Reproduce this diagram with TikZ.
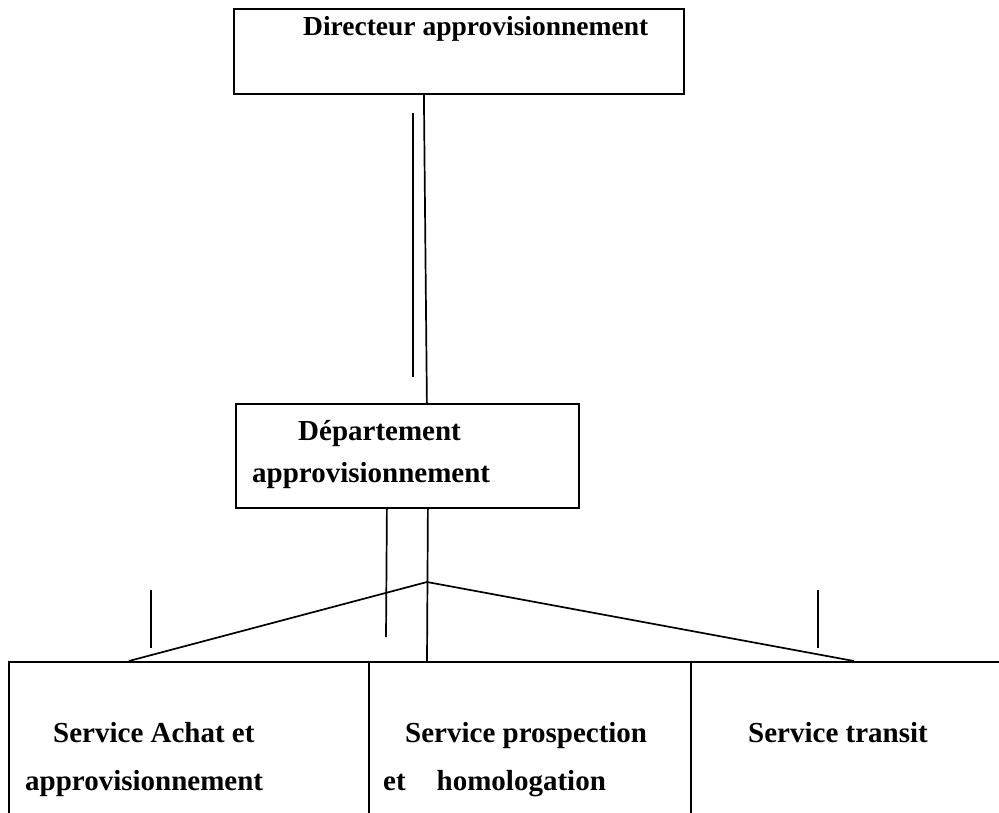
\documentclass[tikz,border=0pt]{standalone}
\usepackage{fontspec}
\setmainfont{Liberation Serif}
\usetikzlibrary{positioning, calc}

\begin{document}
\begin{tikzpicture}[x=1pt, y=-1pt,
    box/.style={draw, line width=1.8pt, inner sep=0pt},
    lbl/.style={anchor=base west, inner sep=0pt, font=\bfseries\fontsize{29}{34}\selectfont},
    link/.style={line width=1.7pt}]
\useasboundingbox (0,0) rectangle (999,812);
\clip (0,0) rectangle (999,812);

% Boxes
\node[box, minimum width=450pt, minimum height=85pt, anchor=north west] (dir) at (233,8) {};
\node[box, minimum width=343pt, minimum height=104pt, anchor=north west] (dep) at (235,403) {};
\node[box, minimum width=360pt, minimum height=190pt, anchor=north west] (achat) at (8,661) {};
\node[box, minimum width=322pt, minimum height=190pt, anchor=north west] (prosp) at (368,661) {};
\node[box, minimum width=340pt, minimum height=190pt, anchor=north west] (transit) at (690,661) {};

% Labels
\node[lbl, font=\bfseries\fontsize{27.5}{32}\selectfont] (dirTxt) at (303,35) {Directeur approvisionnement};
\node[lbl] (depTxtA) at (298,440) {Département};
\node[lbl] (depTxtB) at (252,482) {approvisionnement};
\node[lbl] (achatTxtA) at (53,742) {Service Achat et};
\node[lbl] (achatTxtB) at (25,790) {approvisionnement};
\node[lbl] (prospTxtA) at (405,742) {Service prospection};
\node[lbl] (prospTxtB) at (383,790) {et\hspace{31pt}homologation};
\node[lbl] (transitTxt) at (748,742) {Service transit};

% Links
\coordinate (apex) at (427,582);
\draw[link] ([xshift=-35pt]dir.south) -- ([xshift=19.5pt]dep.north);
\coordinate (d1) at (413,113);
\coordinate (d2) at (413,377);
\draw[link, line width=1.4pt] (d1) -- (d2);
\coordinate (e1) at (386,637);
\draw[link] ([xshift=-20.5pt]dep.south) -- (e1);
\draw[link] ([xshift=20.5pt]dep.south) -- (apex |- prosp.north);
\draw[link] ([xshift=-60pt]achat.north) -- (apex) -- ([xshift=-7pt]transit.north);

% Ticks
\coordinate (t1) at (151,590);
\coordinate (t2) at (151,648);
\draw[link] (t1) -- (t2);
\coordinate (t3) at (818,590);
\coordinate (t4) at (818,648);
\draw[link] (t3) -- (t4);
\end{tikzpicture}
\end{document}
